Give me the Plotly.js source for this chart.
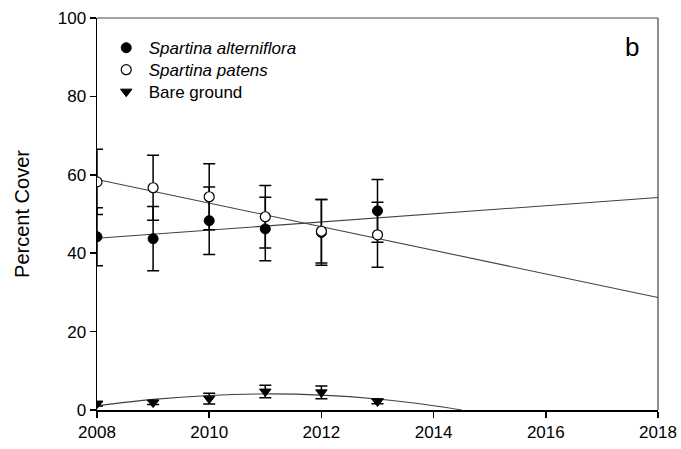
<!DOCTYPE html>
<html>
<head>
<meta charset="utf-8">
<script src="https://cdn.plot.ly/plotly-3.0.1.min.js"></script>
<style>html,body{margin:0;padding:0;background:#fff;}#chart{width:681px;height:449px;}</style>
</head>
<body>
<div id="chart"></div>
<script>
// Observed years
const years = [2008, 2009, 2010, 2011, 2012, 2013];

// Spartina alterniflora (mean, error)
const altMean = [44.2, 43.7, 48.3, 46.2, 45.3, 50.8];
const altErr  = [7.4, 8.2, 8.6, 8.1, 8.4, 8.0];

// Spartina patens (mean, error)
const patMean = [58.2, 56.7, 54.4, 49.3, 45.6, 44.7];
const patErr  = [8.3, 8.3, 8.4, 8.0, 8.1, 8.3];

// Bare ground (mean, error)
const bareMean = [1.6, 1.9, 2.9, 4.7, 4.5, 2.2];
const bareErr  = [0.6, 0.5, 1.4, 1.6, 1.6, 0.6];

// Regression lines (end points)
const altFitX = [2008, 2018];
const altFitY = [43.8, 54.2];
const patFitX = [2008, 2018];
const patFitY = [58.8, 28.7];

// Quadratic fit for bare ground, read at points along the curve
const bareFitX = [2008, 2009, 2010, 2011, 2012, 2013, 2014, 2014.5];
const bareFitY = [1.1, 2.7, 3.7, 4.1, 3.8, 2.8, 1.1, 0.0];

// Tick labels
const xTicks = [2008, 2010, 2012, 2014, 2016, 2018];
const yTicks = [0, 20, 40, 60, 80, 100];

const fitLine = {color: '#404040', width: 1.1};
const errStyle = (arr) => ({type: 'data', array: arr, visible: true, color: '#000', thickness: 1.5, width: 6});

const traces = [
  {x: altFitX, y: altFitY, mode: 'lines', line: fitLine, showlegend: false, hoverinfo: 'skip'},
  {x: patFitX, y: patFitY, mode: 'lines', line: fitLine, showlegend: false, hoverinfo: 'skip'},
  {x: bareFitX, y: bareFitY, mode: 'lines', line: Object.assign({shape: 'spline'}, fitLine), showlegend: false, hoverinfo: 'skip'},
  {x: years, y: altMean, name: '<i>Spartina alterniflora</i>', mode: 'markers', legend: 'legend',
   marker: {symbol: 'circle', size: 10, color: '#000', line: {color: '#000', width: 1}},
   error_y: errStyle(altErr)},
  {x: years, y: patMean, name: '<i>Spartina patens</i>', mode: 'markers', legend: 'legend2',
   marker: {symbol: 'circle', size: 10, color: '#fff', line: {color: '#000', width: 1.2}},
   error_y: errStyle(patErr)},
  {x: years, y: bareMean, name: 'Bare ground', mode: 'markers', legend: 'legend3',
   marker: {symbol: 'triangle-down', size: 10, color: '#000', line: {color: '#000', width: 1}},
   error_y: errStyle(bareErr)}
];

const legBase = (y) => ({x: 0.012, y: y, xanchor: 'left', yanchor: 'middle', itemwidth: 35,
  bgcolor: 'rgba(0,0,0,0)', borderwidth: 0, font: {size: 17}});

const layout = {
  width: 681, height: 449,
  margin: {l: 97, r: 23, t: 18, b: 39, pad: 0},
  paper_bgcolor: '#fff', plot_bgcolor: '#fff',
  font: {family: 'Liberation Sans, Arial, sans-serif', size: 17, color: '#000'},
  showlegend: true,
  legend: legBase(0.923),
  legend2: legBase(0.867),
  legend3: legBase(0.811),
  xaxis: {range: [2008, 2018], tickvals: xTicks, ticktext: xTicks.map(String),
          showgrid: false, zeroline: false, showline: true, linecolor: '#000', linewidth: 1.5,
          mirror: false, ticks: 'outside', ticklen: 6, tickwidth: 1.5, tickcolor: '#000',
          tickfont: {size: 17}},
  yaxis: {range: [0, 100], tickvals: yTicks, ticktext: yTicks.map(String),
          showgrid: false, zeroline: false, showline: true, linecolor: '#000', linewidth: 1.5,
          mirror: false, ticks: 'outside', ticklen: 6, tickwidth: 1.5, tickcolor: '#000',
          tickfont: {size: 17},
          title: {text: 'Percent Cover', font: {size: 20}, standoff: 22}},
  shapes: [
    {type: 'line', xref: 'paper', yref: 'paper', x0: 0, x1: 1, y0: 1, y1: 1, line: {color: '#444', width: 1.2}},
    {type: 'line', xref: 'paper', yref: 'paper', x0: 1, x1: 1, y0: 0, y1: 1, line: {color: '#444', width: 1.2}}
  ],
  annotations: [{text: 'b', xref: 'paper', yref: 'paper', x: 0.954, y: 0.925,
                 showarrow: false, font: {size: 26, color: '#000'}, xanchor: 'center', yanchor: 'middle'}]
};

Plotly.newPlot('chart', traces, layout, {displayModeBar: false, staticPlot: true});
</script>
</body>
</html>
